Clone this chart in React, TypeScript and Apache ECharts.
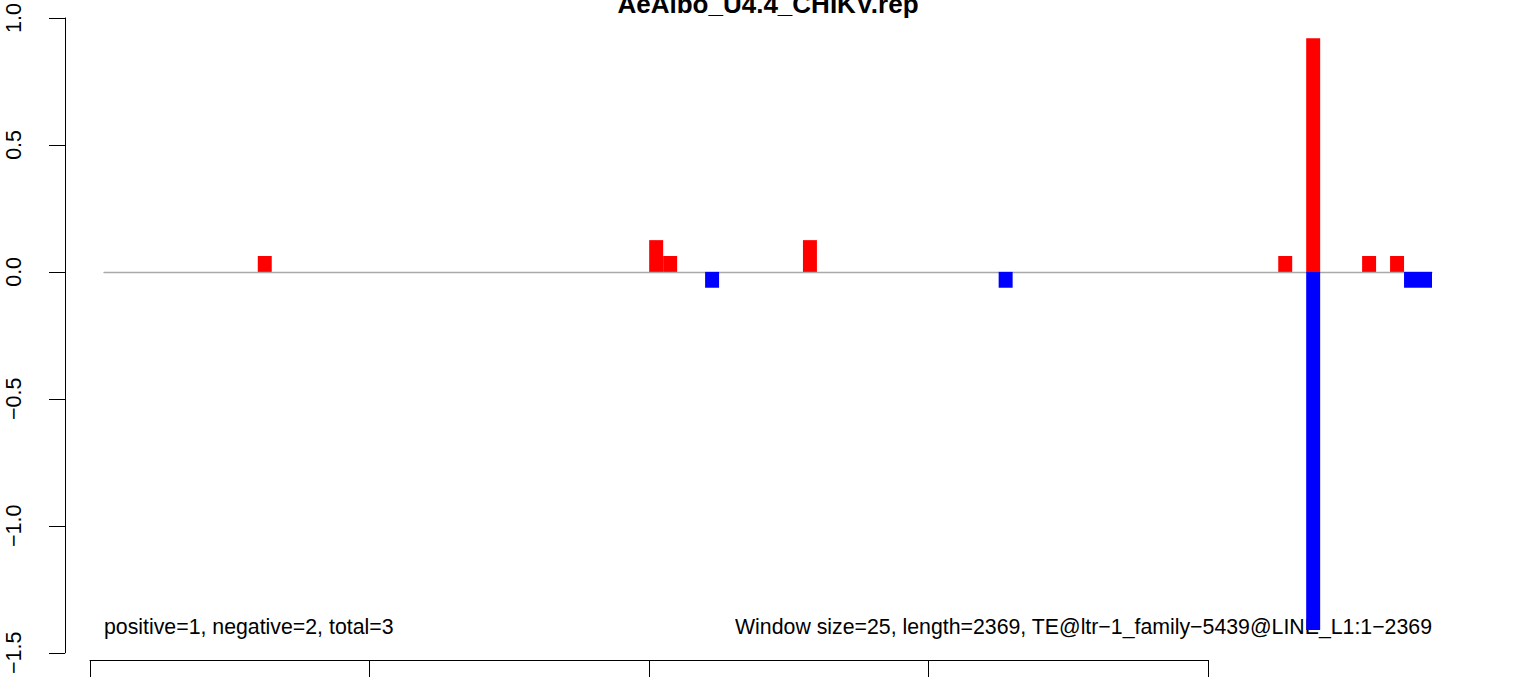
import React, { useEffect, useRef } from "react";
import * as echarts from "echarts";

const TITLE = "AeAlbo_U4.4_CHIKV.rep";
const LEFT_NOTE = "positive=1, negative=2, total=3";
const RIGHT_NOTE = "Window size=25, length=2369, TE@ltr\u22121_family\u22125439@LINE_L1:1\u22122369";

// 95 windows (window size 25 over length 2369)
const positiveValues: number[] = [
  0, 0, 0, 0, 0, 0, 0, 0, 0, 0,
  0, 0.0625, 0, 0, 0, 0, 0, 0, 0, 0,
  0, 0, 0, 0, 0, 0, 0, 0, 0, 0,
  0, 0, 0, 0, 0, 0, 0, 0, 0, 0.125,
  0.0625, 0, 0, 0, 0, 0, 0, 0, 0, 0,
  0.125, 0, 0, 0, 0, 0, 0, 0, 0, 0,
  0, 0, 0, 0, 0, 0, 0, 0, 0, 0,
  0, 0, 0, 0, 0, 0, 0, 0, 0, 0,
  0, 0, 0, 0, 0.0625, 0, 0.92, 0, 0, 0,
  0.0625, 0, 0.0625, 0, 0,
];

const negativeValues: number[] = [
  0, 0, 0, 0, 0, 0, 0, 0, 0, 0,
  0, 0, 0, 0, 0, 0, 0, 0, 0, 0,
  0, 0, 0, 0, 0, 0, 0, 0, 0, 0,
  0, 0, 0, 0, 0, 0, 0, 0, 0, 0,
  0, 0, 0, -0.0625, 0, 0, 0, 0, 0, 0,
  0, 0, 0, 0, 0, 0, 0, 0, 0, 0,
  0, 0, 0, 0, -0.0625, 0, 0, 0, 0, 0,
  0, 0, 0, 0, 0, 0, 0, 0, 0, 0,
  0, 0, 0, 0, 0, 0, -1.41, 0, 0, 0,
  0, 0, 0, -0.0625, -0.0625,
];

const windowLabels: string[] = positiveValues.map((_, i) => String(i + 1));

const Y_MIN = -1.5;
const Y_MAX = 1.0;
const Y_STEP = 0.5;
const X_TICK_MIN = 0;
const X_TICK_MAX = 80;
const X_TICK_STEP = 20;

const FONT = '"Liberation Sans", Arial, Helvetica, sans-serif';

export default function App() {
  const ref = useRef<HTMLDivElement>(null);

  useEffect(() => {
    document.body.style.margin = "0";
    if (!ref.current) return;
    const chart = echarts.init(ref.current, null, { renderer: "svg" });
    chart.setOption({
      animation: false,
      backgroundColor: "#ffffff",
      textStyle: { fontFamily: FONT },
      grid: [
        { left: 104, right: 104, top: 17, bottom: 20, containLabel: false },
        { left: 90, right: 328, top: 600, bottom: 17, containLabel: false },
      ],
      xAxis: [
        {
          type: "category",
          gridIndex: 0,
          data: windowLabels,
          boundaryGap: true,
          axisLine: { show: true, onZero: true, lineStyle: { color: "#a9a9a9", width: 1.3 } },
          axisTick: { show: false },
          axisLabel: { show: false },
          splitLine: { show: false },
        },
        {
          type: "value",
          gridIndex: 1,
          min: X_TICK_MIN,
          max: X_TICK_MAX,
          interval: X_TICK_STEP,
          position: "bottom",
          axisLine: { show: true, onZero: false, lineStyle: { color: "#000000", width: 1 } },
          axisTick: { show: true, inside: false, length: 17, lineStyle: { color: "#000000", width: 1 } },
          axisLabel: { show: false },
          splitLine: { show: false },
        },
      ],
      yAxis: [
        {
          type: "value",
          gridIndex: 0,
          min: Y_MIN,
          max: Y_MAX,
          interval: Y_STEP,
          position: "left",
          offset: 39,
          axisLine: { show: true, lineStyle: { color: "#000000", width: 1 } },
          axisTick: { show: true, inside: false, length: 16, lineStyle: { color: "#000000", width: 1 } },
          axisLabel: {
            show: true,
            rotate: 90,
            margin: 40,
            color: "#000000",
            fontSize: 21.5,
            fontFamily: FONT,
            showMinLabel: true,
            showMaxLabel: true,
            formatter: (v: number) => v.toFixed(1).replace("-", "\u2212"),
          },
          splitLine: { show: false },
        },
        {
          type: "value",
          gridIndex: 1,
          min: 0,
          max: 1,
          show: false,
        },
      ],
      series: [
        {
          name: "positive",
          type: "bar",
          xAxisIndex: 0,
          yAxisIndex: 0,
          data: positiveValues,
          barWidth: "100%",
          barGap: "-100%",
          barCategoryGap: "0%",
          itemStyle: { color: "#ff0000" },
          emphasis: { disabled: true },
        },
        {
          name: "negative",
          type: "bar",
          xAxisIndex: 0,
          yAxisIndex: 0,
          data: negativeValues,
          barWidth: "100%",
          barGap: "-100%",
          barCategoryGap: "0%",
          itemStyle: { color: "#0000ff" },
          emphasis: { disabled: true },
        },
        {
          name: "axis",
          type: "line",
          xAxisIndex: 1,
          yAxisIndex: 1,
          data: [],
          silent: true,
        },
      ],
      graphic: [
        {
          type: "text",
          x: 768,
          y: 3.5,
          silent: true,
          style: {
            text: TITLE,
            fill: "#000000",
            font: `bold 26px ${FONT}`,
            textAlign: "center",
            textVerticalAlign: "middle",
          },
        },
        {
          type: "text",
          x: 104,
          y: 627,
          silent: true,
          style: {
            text: LEFT_NOTE,
            fill: "#000000",
            font: `21.3px ${FONT}`,
            textAlign: "left",
            textVerticalAlign: "middle",
          },
        },
        {
          type: "text",
          x: 1432,
          y: 627,
          silent: true,
          style: {
            text: RIGHT_NOTE,
            fill: "#000000",
            font: `21.3px ${FONT}`,
            textAlign: "right",
            textVerticalAlign: "middle",
          },
        },
      ],
    });
    return () => {
      chart.dispose();
    };
  }, []);

  return <div ref={ref} style={{ width: 1536, height: 677 }} />;
}
